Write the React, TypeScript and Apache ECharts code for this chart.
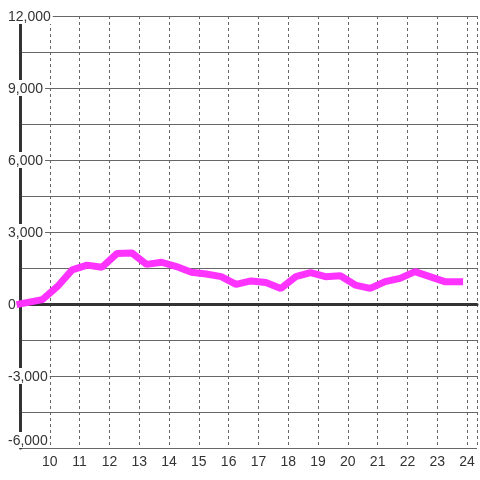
import React, { useEffect, useRef } from "react";
import * as echarts from "echarts";

const hours = [9, 9.75, 10.25, 10.75, 11.25, 11.75, 12.25, 12.75, 13.25, 13.75, 14.25, 14.75, 15.25, 15.75, 16.25, 16.75, 17.25, 17.75, 18.25, 18.75, 19.25, 19.75, 20.25, 20.75, 21.25, 21.75, 22.25, 22.75, 23.25, 23.75];
const values = [0, 180, 720, 1420, 1620, 1530, 2100, 2130, 1650, 1740, 1560, 1320, 1250, 1140, 820, 960, 900, 650, 1140, 1310, 1140, 1180, 790, 650, 930, 1070, 1350, 1140, 930, 930];
const yTicks = { min: -6000, max: 12000, step: 3000 };
const xTicks = { min: 9, max: 24 + 1 / 3, step: 1 };

const FONT = "'Liberation Sans', Arial, sans-serif";

export default function App() {
  const ref = useRef<HTMLDivElement>(null);
  useEffect(() => {
    if (!ref.current) return;
    const chart = echarts.init(ref.current, undefined, { renderer: "svg" });
    const data = hours.map((h, i) => [h, values[i]]);
    chart.setOption({
      animation: false,
      grid: { left: 20, top: 16, right: 0, bottom: 32, containLabel: false },
      xAxis: [
        {
          type: "value",
          min: xTicks.min,
          max: xTicks.max,
          interval: xTicks.step,
          position: "bottom",
          axisLine: { show: false, onZero: false },
          axisTick: { show: false },
          axisLabel: {
            margin: 6,
            fontSize: 14,
            color: "#333",
            fontFamily: FONT,
            formatter: (v: number) => (v >= 10 && Number.isInteger(v) ? String(v) : ""),
          },
          splitLine: { show: true, lineStyle: { color: "#666", width: 1, type: [3, 3] } },
        },
        {
          type: "value",
          min: xTicks.min,
          max: xTicks.max,
          interval: xTicks.step,
          position: "top",
          axisLine: { show: true, onZero: true, lineStyle: { color: "#333", width: 3 } },
          axisTick: { show: false },
          axisLabel: { show: false },
          splitLine: { show: false },
        },
      ],
      yAxis: {
        type: "value",
        min: yTicks.min,
        max: yTicks.max,
        interval: yTicks.step,
        axisLine: { show: true, lineStyle: { color: "#333", width: 3 } },
        axisTick: { show: false },
        minorTick: { show: false, splitNumber: 2 },
        axisLabel: {
          align: "left",
          margin: 12,
          fontSize: 14,
          lineHeight: 16,
          color: "#333",
          fontFamily: FONT,
          backgroundColor: "#fff",
          padding: [0, 2, 0, 0],
          verticalAlignMinLabel: "bottom",
          formatter: (v: number) => v.toLocaleString("en-US"),
        },
        splitLine: { show: true, lineStyle: { color: "#666", width: 1 } },
        minorSplitLine: { show: true, lineStyle: { color: "#666", width: 1 } },
      },
      series: [
        {
          type: "line",
          xAxisIndex: 0,
          data,
          showSymbol: false,
          lineStyle: { color: "#ff33ff", width: 7, cap: "square" },
          itemStyle: { color: "#ff33ff" },
          z: 3,
        },
      ],
    });
    return () => chart.dispose();
  }, []);
  return <div ref={ref} style={{ position: "fixed", left: 0, top: 0, width: 480, height: 480 }} />;
}
